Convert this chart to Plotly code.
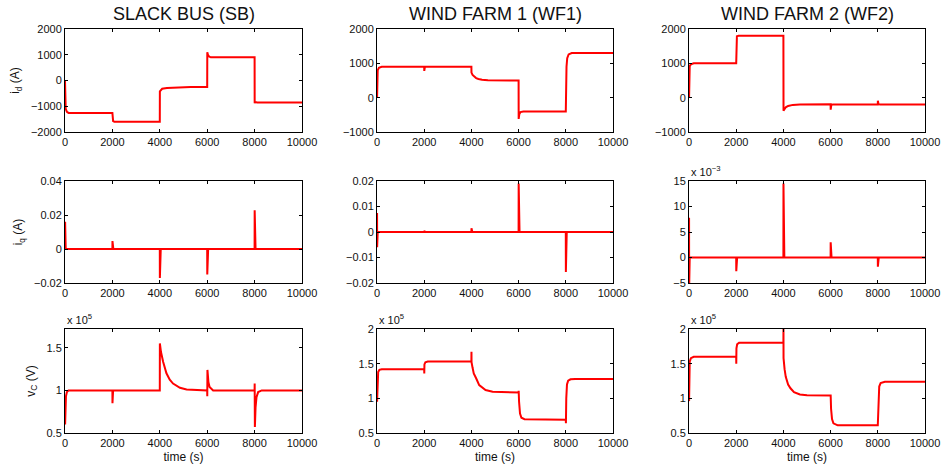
import plotly.graph_objects as go

# ---------------- data ----------------
x_ticks = [0, 2000, 4000, 6000, 8000, 10000]
x_tick_labels = ["0", "2000", "4000", "6000", "8000", "10000"]

col_titles = ["SLACK BUS (SB)", "WIND FARM 1 (WF1)", "WIND FARM 2 (WF2)"]
row_ylabels = ["i<sub>d</sub> (A)", "i<sub>q</sub> (A)", "v<sub>C</sub> (V)"]
x_label = "time (s)"

# Slack bus
sb_id_t = [0, 3, 8, 30, 80, 150, 2000, 2004, 2030, 2080, 4000, 4003, 4100, 4300, 4700, 5300, 6000, 6004, 6030, 6080, 6150, 8000, 8003, 8010, 8030, 8100, 10000]
sb_id = [0, -500, -850, -1100, -1220, -1260, -1260, -1520, -1580, -1600, -1600, -420, -320, -290, -270, -255, -250, 1100, 1000, 930, 900, 900, -880, -530, -830, -850, -850]
sb_iq_t = [5, 6, 30, 2000, 2003, 2040, 4000, 4003, 4040, 6000, 6003, 6040, 8000, 8003, 8040, 10000]
sb_iq = [0.016, 0.008, 0, 0, 0.0047, 0, 0, -0.017, 0, 0, -0.015, 0, 0, 0.0228, 0, 0]
sb_vc_t = [5, 20, 40, 80, 150, 2000, 2003, 2030, 4000, 4003, 4050, 4140, 4280, 4420, 4560, 4850, 5130, 5600, 6000, 6003, 6010, 6050, 6100, 6250, 8000, 8003, 8012, 8040, 8080, 8150, 8300, 10000]
sb_vc_e5 = [0.6, 0.8, 0.93, 0.98, 1.0, 1.0, 0.85, 1.0, 1.0, 1.55, 1.45, 1.335, 1.2, 1.125, 1.08, 1.03, 1.01, 1.0, 1.0, 0.93, 1.24, 1.1, 1.04, 1.0, 1.0, 1.08, 0.57, 0.8, 0.92, 0.98, 1.0, 1.0]

# Wind farm 1
wf1_id_t = [3, 5, 30, 80, 200, 2000, 2003, 2030, 4000, 4003, 4050, 4100, 4200, 4300, 4450, 4700, 5000, 6000, 6003, 6030, 6080, 6200, 8000, 8010, 8030, 8060, 8120, 8250, 10000]
wf1_id = [0, 300, 800, 870, 900, 900, 780, 900, 900, 730, 660, 620, 570, 545, 520, 505, 500, 500, -620, -480, -420, -405, -400, 300, 900, 1150, 1260, 1300, 1300]
wf1_iq_t = [3, 6, 30, 2000, 2003, 2040, 4000, 4003, 4040, 6000, 6003, 6040, 8000, 8003, 8040, 10000]
wf1_iq = [0.0075, -0.006, 0, 0, 0.0005, 0, 0, 0.0015, 0, 0, 0.019, 0, 0, -0.0157, 0, 0]
wf1_vc_t = [3, 20, 50, 100, 200, 2000, 2003, 2010, 2050, 2150, 4000, 4003, 4006, 4050, 4100, 4200, 4330, 4600, 4900, 6000, 6003, 6020, 6060, 6120, 6250, 8000, 8005, 8020, 8050, 8100, 8200, 8400, 10000]
wf1_vc_e5 = [0.95, 1.3, 1.38, 1.41, 1.42, 1.42, 1.36, 1.49, 1.52, 1.53, 1.535, 1.67, 1.52, 1.44, 1.36, 1.29, 1.19, 1.12, 1.095, 1.085, 1.11, 0.95, 0.78, 0.72, 0.70, 0.69, 0.64, 1.0, 1.2, 1.255, 1.275, 1.28, 1.28]

# Wind farm 2
wf2_id_t = [3, 8, 30, 80, 200, 2000, 2003, 2030, 2100, 4000, 4005, 4030, 4100, 4200, 4400, 4700, 5200, 6000, 6003, 6030, 6100, 8000, 8003, 8030, 8100, 10000]
wf2_id = [0, 700, 920, 970, 1000, 1000, 1700, 1790, 1800, 1800, -380, -340, -280, -240, -210, -200, -195, -195, -350, -210, -200, -200, -90, -190, -200, -200]
wf2_iq_t = [3, 6, 30, 2000, 2003, 2040, 4000, 4003, 4040, 6000, 6003, 6040, 8000, 8003, 8040, 10000]
wf2_iq_em3 = [7.8, -6, 0, 0, -2.7, 0, 0, 14.5, 0, 0, 3.0, 0, 0, -1.8, 0, 0]
wf2_vc_t = [3, 10, 30, 80, 200, 2000, 2003, 2010, 2040, 2120, 4000, 4003, 4006, 4050, 4100, 4200, 4300, 4450, 4700, 5000, 6000, 6003, 6020, 6060, 6120, 6300, 8000, 8005, 8020, 8060, 8120, 8300, 10000]
wf2_vc_e5 = [0.96, 1.4, 1.53, 1.58, 1.6, 1.6, 1.5, 1.72, 1.78, 1.8, 1.8, 2.02, 1.58, 1.42, 1.31, 1.2, 1.145, 1.09, 1.055, 1.045, 1.04, 1.04, 0.85, 0.7, 0.64, 0.61, 0.61, 0.7, 1.0, 1.17, 1.22, 1.24, 1.24]

# y-axis ranges and ticks per panel (row-major)
y_ranges = [[-2000, 2000], [-1000, 2000], [-1000, 2000],
            [-0.02, 0.04], [-0.02, 0.02], [-5, 15],
            [0.5, 1.72], [0.5, 2], [0.5, 2]]
y_ticks = [[-2000, -1000, 0, 1000, 2000], [-1000, 0, 1000, 2000], [-1000, 0, 1000, 2000],
           [-0.02, 0, 0.02, 0.04], [-0.02, -0.01, 0, 0.01, 0.02], [-5, 0, 5, 10, 15],
           [0.5, 1, 1.5], [0.5, 1, 1.5, 2], [0.5, 1, 1.5, 2]]
y_tick_labels = [["\u22122000", "\u22121000", "0", "1000", "2000"], ["\u22121000", "0", "1000", "2000"], ["\u22121000", "0", "1000", "2000"],
                 ["\u22120.02", "0", "0.02", "0.04"], ["\u22120.02", "\u22120.01", "0", "0.01", "0.02"], ["\u22125", "0", "5", "10", "15"],
                 ["0.5", "1", "1.5"], ["0.5", "1", "1.5", "2"], ["0.5", "1", "1.5", "2"]]
exponent_labels = [None, None, None, None, None, "x 10<sup>\u22123</sup>", "x 10<sup>5</sup>", "x 10<sup>5</sup>", "x 10<sup>5</sup>"]

series = [(sb_id_t, sb_id), (wf1_id_t, wf1_id), (wf2_id_t, wf2_id),
          (sb_iq_t, sb_iq), (wf1_iq_t, wf1_iq), (wf2_iq_t, wf2_iq_em3),
          (sb_vc_t, sb_vc_e5), (wf1_vc_t, wf1_vc_e5), (wf2_vc_t, wf2_vc_e5)]

# ---------------- layout geometry ----------------
W, H = 941, 468
col_px = [(65, 302), (377, 613), (689, 925)]
row_px = [(29, 132), (181, 283), (329, 433)]
FONT = "Liberation Sans, Arial, Helvetica, sans-serif"
INK = "#111111"

fig = go.Figure()
layout = dict(
    width=W, height=H, margin=dict(l=0, r=0, t=0, b=0, autoexpand=False),
    paper_bgcolor="white", plot_bgcolor="white", showlegend=False,
    font=dict(family=FONT, size=11, color=INK),
)
annotations = []

for k, (t, y) in enumerate(series):
    r, c = divmod(k, 3)
    xn = "x" if k == 0 else f"x{k+1}"
    yn = "y" if k == 0 else f"y{k+1}"
    fig.add_trace(go.Scatter(x=t, y=y, mode="lines", xaxis=xn, yaxis=yn,
                             line=dict(color="#ff0000", width=2), hoverinfo="skip"))
    x0, x1 = col_px[c]
    ytop, ybot = row_px[r]
    xd = [x0 / W, x1 / W]
    yd = [1 - ybot / H, 1 - ytop / H]
    common = dict(showline=True, linecolor="black", linewidth=1, mirror="ticks",
                  ticks="inside", ticklen=3, tickcolor="black", showgrid=False,
                  zeroline=False, automargin=False,
                  tickfont=dict(family=FONT, size=11, color=INK))
    xa = dict(common, domain=xd, anchor=yn, range=[0, 10000], tickmode="array",
              tickvals=x_ticks, ticktext=x_tick_labels)
    if r == 2:
        xa["title"] = dict(text=x_label, font=dict(family=FONT, size=12, color=INK), standoff=4)
    ya = dict(common, domain=yd, anchor=xn, range=y_ranges[k], tickmode="array",
              tickvals=y_ticks[k], ticktext=y_tick_labels[k])
    if c == 0:
        ya["title"] = dict(text=row_ylabels[r], font=dict(family=FONT, size=12, color=INK), standoff=8)
    layout["xaxis" if k == 0 else f"xaxis{k+1}"] = xa
    layout["yaxis" if k == 0 else f"yaxis{k+1}"] = ya
    if exponent_labels[k]:
        annotations.append(dict(text=exponent_labels[k], xref="paper", yref="paper",
                                x=xd[0], y=yd[1] + 1 / H, xanchor="left", yanchor="bottom",
                                showarrow=False, font=dict(family=FONT, size=11, color=INK)))

for c, title in enumerate(col_titles):
    x0, x1 = col_px[c]
    annotations.append(dict(text=title, xref="paper", yref="paper",
                            x=(x0 + x1) / 2 / W, y=1 - 14 / H, xanchor="center", yanchor="middle",
                            showarrow=False, font=dict(family=FONT, size=18, color=INK)))

layout["annotations"] = annotations
fig.update_layout(**layout)
fig.write_html("out.html",
               config={"displayModeBar": False},
               post_script="document.body.style.margin='0';document.body.style.overflow='hidden';")
